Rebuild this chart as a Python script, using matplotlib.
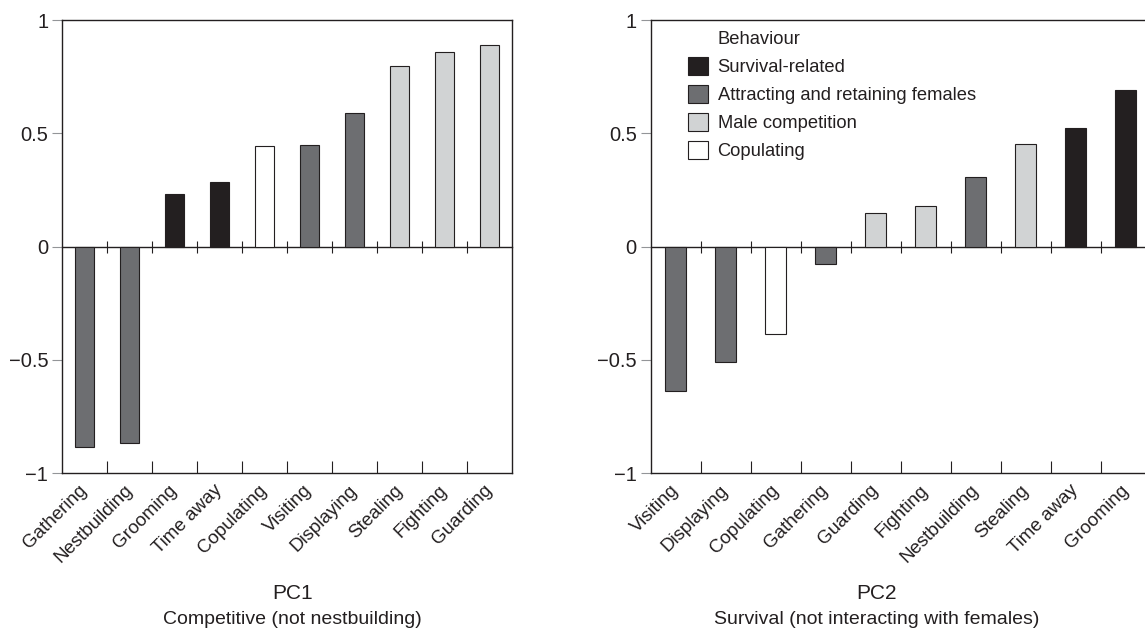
import matplotlib as mpl
mpl.use('Agg')

import matplotlib.pyplot as plt
from matplotlib.patches import Patch

# Loadings per behaviour, sorted as in the figure
pc1_labels = ['Gathering', 'Nestbuilding', 'Grooming', 'Time away', 'Copulating',
              'Visiting', 'Displaying', 'Stealing', 'Fighting', 'Guarding']
pc1_values = [-0.886, -0.866, 0.234, 0.285, 0.444, 0.450, 0.590, 0.795, 0.859, 0.890]

pc2_labels = ['Visiting', 'Displaying', 'Copulating', 'Gathering', 'Guarding',
              'Fighting', 'Nestbuilding', 'Stealing', 'Time away', 'Grooming']
pc2_values = [-0.639, -0.509, -0.387, -0.077, 0.148, 0.178, 0.305, 0.453, 0.525, 0.691]

groups = ['Survival-related', 'Attracting and retaining females', 'Male competition', 'Copulating']
group_of = {
    'Grooming': 'Survival-related', 'Time away': 'Survival-related',
    'Gathering': 'Attracting and retaining females', 'Nestbuilding': 'Attracting and retaining females',
    'Visiting': 'Attracting and retaining females', 'Displaying': 'Attracting and retaining females',
    'Stealing': 'Male competition', 'Fighting': 'Male competition', 'Guarding': 'Male competition',
    'Copulating': 'Copulating',
}
group_colors = {
    'Survival-related': '#231f20',
    'Attracting and retaining females': '#6d6e71',
    'Male competition': '#d1d3d4',
    'Copulating': '#ffffff',
}

y_ticks = [-1, -0.5, 0, 0.5, 1]
y_ticklabels = ['\u22121', '\u22120.5', '0', '0.5', '1']

dark = '#231f20'
plt.rcParams['font.family'] = ['Liberation Sans', 'DejaVu Sans']


def bar_panel(ax, labels, values, name, subtitle, title_x):
    n = len(labels)
    xs = list(range(n))
    colors = [group_colors[group_of[l]] for l in labels]
    ax.bar(xs, values, width=0.42, color=colors, edgecolor=dark, linewidth=0.8, zorder=2)
    ax.set_xlim(-0.5, n - 0.5)
    ax.set_ylim(-1, 1)
    ax.set_yticks(y_ticks)
    ax.set_yticklabels(y_ticklabels, fontsize=14.5, color=dark)
    ax.tick_params(axis='y', direction='out', length=7, width=0.8, color='#939598', pad=3)
    # labels at the bar centres, ticks between categories
    ax.set_xticks(xs)
    ax.set_xticklabels(labels, rotation=45, ha='right', va='center',
                       rotation_mode='anchor', fontsize=13.5, color=dark)
    ax.tick_params(axis='x', which='major', length=0, pad=10.5)
    bounds = [i + 0.5 for i in range(n - 1)]
    ax.set_xticks(bounds, minor=True)
    ax.tick_params(axis='x', which='minor', direction='in', length=8.5, width=0.8, color=dark)
    for s in ax.spines.values():
        s.set_color(dark)
        s.set_linewidth(1.0)
    # zero line with small crossing ticks
    zero = ax.secondary_xaxis(0.5)
    zero.set_xticks(bounds)
    zero.tick_params(direction='inout', length=9, width=0.8, color=dark, labelbottom=False, labeltop=False)
    zero.spines['bottom'].set_color(dark)
    zero.spines['top'].set_color(dark)
    zero.spines['bottom'].set_linewidth(1.0)
    zero.spines['top'].set_linewidth(1.0)
    ax.text(title_x, -0.265, name, transform=ax.transAxes, ha='center', va='center',
            fontsize=15, color=dark)
    ax.text(title_x, -0.323, subtitle, transform=ax.transAxes, ha='center', va='center',
            fontsize=14, color=dark)


fig = plt.figure(figsize=(11.45, 6.3), dpi=100)
ax1 = fig.add_axes([0.0542, 0.2492, 0.3930, 0.7190])
ax2 = fig.add_axes([0.5683, 0.2492, 0.4367, 0.7190])

bar_panel(ax1, pc1_labels, pc1_values, 'PC1', 'Competitive (not nestbuilding)', 0.512)
bar_panel(ax2, pc2_labels, pc2_values, 'PC2', 'Survival (not interacting with females)', 0.451)

handles = [Patch(facecolor='none', edgecolor='none')]
handles += [Patch(facecolor=group_colors[g], edgecolor=dark, linewidth=0.8) for g in groups]
ax2.legend(handles, ['Behaviour'] + groups, loc='upper left', bbox_to_anchor=(0.075, 0.98),
           frameon=False, fontsize=13.2, handlelength=1.1, handleheight=1.15,
           handletextpad=0.5, labelspacing=0.47, borderpad=0, borderaxespad=0,
           labelcolor=dark)

fig.savefig('out.png', dpi=100)
